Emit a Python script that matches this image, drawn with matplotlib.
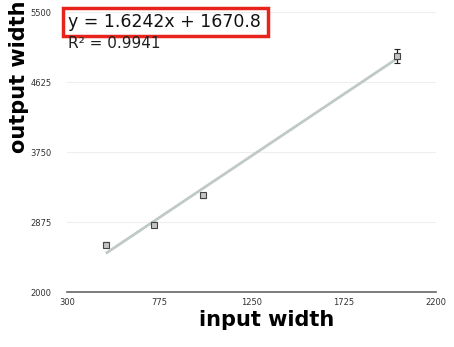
import numpy as np
import matplotlib
matplotlib.use('Agg')
from matplotlib import pyplot as plt
from matplotlib.patches import Rectangle

# values
input_width = [500, 750, 1000, 2000]
output_width = [2590, 2840, 3210, 4950]
errors = [30, 30, 30, 90]
slope, intercept = 1.6242, 1670.8
r2 = 0.9941
xticks = [300, 775, 1250, 1725, 2200]
yticks = [2000, 2875, 3750, 4625, 5500]

fig = plt.figure(figsize=(4.54, 3.47), dpi=100)
ax = fig.add_axes([67/454, 1-292/347, (436-67)/454, (292-12)/347])

ax.set_xlim(300, 2200)
ax.set_ylim(2000, 5500)
ax.set_xticks(xticks)
ax.set_yticks(yticks)
ax.tick_params(length=0, labelsize=6, colors='#333333')
ax.tick_params(axis='x', pad=4)
ax.tick_params(axis='y', pad=11)
ax.grid(axis='y', color='#eeeeee', linewidth=0.8)
ax.set_axisbelow(True)
for s in ['top', 'right', 'left']:
    ax.spines[s].set_visible(False)
ax.spines['bottom'].set_color('#666666')
ax.spines['bottom'].set_linewidth(1.2)

xs = np.array([min(input_width), max(input_width)])
ax.plot(xs, slope*xs + intercept, color='#bfc9c6', linewidth=2.0, solid_capstyle='butt', zorder=2)
ax.errorbar(input_width, output_width, yerr=errors, fmt='s', markersize=4.5,
            markerfacecolor='#c4c4c4', markeredgecolor='#444444', markeredgewidth=0.8,
            ecolor='#222222', elinewidth=0.9, capsize=2.5, zorder=3)

ax.set_xlabel('input width', fontsize=15, fontweight='bold')
ax.xaxis.set_label_coords(0.54, -0.065)
ax.set_ylabel('output width', fontsize=15, fontweight='bold')
ax.yaxis.set_label_coords(-0.103, 0.77)

fig.text(68/454, 1-22/347, 'y = %.4fx + %.1f' % (slope, intercept), fontsize=12.5,
         va='center', ha='left', color='#111111')
fig.text(68/454, 1-44/347, 'R² = %.4f' % r2, fontsize=11, va='center', ha='left', color='#222222')
fig.patches.append(Rectangle((63/454, 1-36/347), (268-63)/454, 28/347, transform=fig.transFigure,
                             fill=False, edgecolor='#e8231b', linewidth=2.5))

fig.savefig('out.png', dpi=100)
